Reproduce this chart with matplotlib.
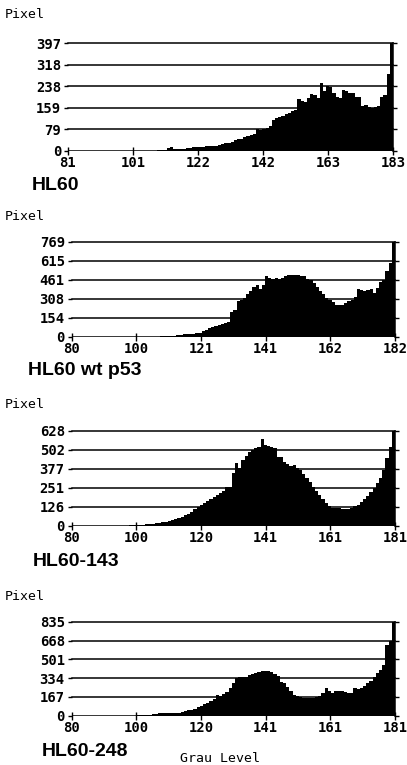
import numpy as np
import matplotlib
matplotlib.use('Agg')
from matplotlib import pyplot as plt

#gray levels for each histogram
levels_hl60=np.arange(81,184)
levels_wt=np.arange(80,183)
levels_143=np.arange(80,182)
levels_248=np.arange(80,182)

#pixel counts (one per gray level)
counts_hl60=[0,0,0,0,0,0,0,0,0,0,0,0,0,0,0,0,0,0,0,0,0,0,0,0,0,0,0,0,0,1,1,2,
    10,14,8,6,6,8,10,11,12,14,
    15,14,16,17,16,18,22,26,28,30,
    34,40,44,45,50,55,57,60,79,78,
    80,85,92,112,120,125,130,136,140,148,
    150,190,182,180,195,210,205,196,252,222,
    240,236,215,200,196,225,220,214,212,200,
    198,165,168,160,158,160,165,198,205,285,
    397]
counts_wt=[0,0,0,0,0,0,0,0,0,0,0,0,0,0,0,0,0,0,0,0,0,0,0,0,0,0,0,0,1,2,3,4,5,
    8,14,16,18,20,22,24,28,32,45,
    55,68,78,85,95,105,112,120,200,215,
    285,300,315,345,370,405,415,385,420,492,
    478,470,478,468,476,490,500,500,502,500,
    495,488,470,455,435,400,370,345,310,295,
    280,260,255,258,270,285,300,320,388,380,
    372,380,390,350,395,440,460,530,600,769]
counts_143=[0,0,0,0,0,0,0,0,0,0,0,0,0,0,0,0,0,1,1,2,
    3,5,6,7,9,11,14,17,20,24,
    27,33,38,45,52,60,70,80,92,108,
    125,138,152,165,178,192,205,215,228,255,
    258,350,413,380,435,460,490,500,513,525,
    572,535,530,524,513,457,453,424,410,396,
    402,385,369,340,314,287,259,231,203,175,
    148,130,119,116,115,112,110,110,116,128,
    140,155,175,200,225,250,280,314,369,446,
    524,628]
counts_248=[0,0,0,0,0,0,0,0,0,0,0,0,0,0,0,0,0,0,0,1,1,2,
    3,5,6,8,12,18,20,22,22,20,
    22,24,27,35,44,48,52,56,80,90,
    100,112,130,150,183,175,195,213,250,287,
    331,346,340,346,360,370,378,385,395,397,
    398,391,372,352,300,287,252,215,183,172,
    163,158,154,155,158,163,175,198,243,215,
    204,222,220,218,213,205,198,243,235,243,
    265,287,310,346,380,405,450,628,660,835]

#axis maxima and tick labels as printed
y_max=[397,769,628,835]
y_labels=[['0','79','159','238','318','397'],
          ['0','154','308','461','615','769'],
          ['0','126','251','377','502','628'],
          ['0','167','334','501','668','835']]
x_labels=[['81','101','122','142','163','183'],
          ['80','100','121','141','162','182'],
          ['80','100','120','141','161','181'],
          ['80','100','120','141','161','181']]
names=['HL60','HL60 wt p53','HL60-143','HL60-248']

all_levels=[levels_hl60,levels_wt,levels_143,levels_248]
all_counts=[counts_hl60,counts_wt,counts_143,counts_248]

W=407
H=765
fig=plt.figure(figsize=(W/100,H/100),dpi=100)
mono='DejaVu Sans Mono'

#axes boxes in pixels: left, right, y of zero, y of max
boxes=[(68,393,150.7,43.3),(71.7,395,336.7,241.7),(71.7,395,525.7,431),(71.7,395,715.7,621.7)]
pixel_y=[15,217,405,597]
name_pos=[(32,185),(28,370),(33,562),(42,752)]

for i in range(4):
    l,r,y0,y1=boxes[i]
    ax=fig.add_axes([l/W,1-y0/H,(r-l)/W,(y0-y1)/H])
    lv=all_levels[i]
    edges=np.append(lv[0]-1,lv) #bar for level g covers g-1..g
    ax.stairs(all_counts[i],edges,fill=True,color='black',linewidth=0)
    ax.set_xlim(lv[0],lv[-1])
    ax.set_ylim(0,y_max[i])
    yt=np.linspace(0,y_max[i],6)
    xt=np.linspace(lv[0],lv[-1],6)
    ax.set_yticks(yt)
    ax.set_yticklabels(y_labels[i])
    ax.set_xticks(xt)
    ax.set_xticklabels(x_labels[i])
    for y in yt[1:]:
        ax.axhline(y,color='black',linewidth=1.1,zorder=3,clip_on=False)
    ax.axhline(0,color='black',linewidth=1.1,zorder=3)
    ax.spines['top'].set_visible(False)
    ax.spines['left'].set_visible(False)
    ax.spines['bottom'].set_visible(False)
    ax.spines['right'].set_linewidth(1.1)
    ax.tick_params(axis='y',direction='out',length=3,width=1,pad=2,labelsize=10,right=True)
    ax.tick_params(axis='x',direction='inout',length=6,width=1,pad=0.5,labelsize=10)
    for t in ax.get_xticklabels()+ax.get_yticklabels():
        t.set_fontfamily(mono)
        t.set_fontweight('bold')
    ax.set_facecolor('white')

    fig.text(5/W,1-pixel_y[i]/H,'Pixel',fontfamily=mono,fontsize=9.5,va='center',ha='left')
    nx,ny=name_pos[i]
    fig.text(nx/W,1-ny/H,names[i],fontfamily='Liberation Sans',fontweight='bold',fontsize=14,va='center',ha='left')

fig.text(180/W,1-759/H,'Grau Level',fontfamily=mono,fontsize=9.5,va='center',ha='left')

plt.savefig('out.png',dpi=100,facecolor='white')
print("program concluded")
